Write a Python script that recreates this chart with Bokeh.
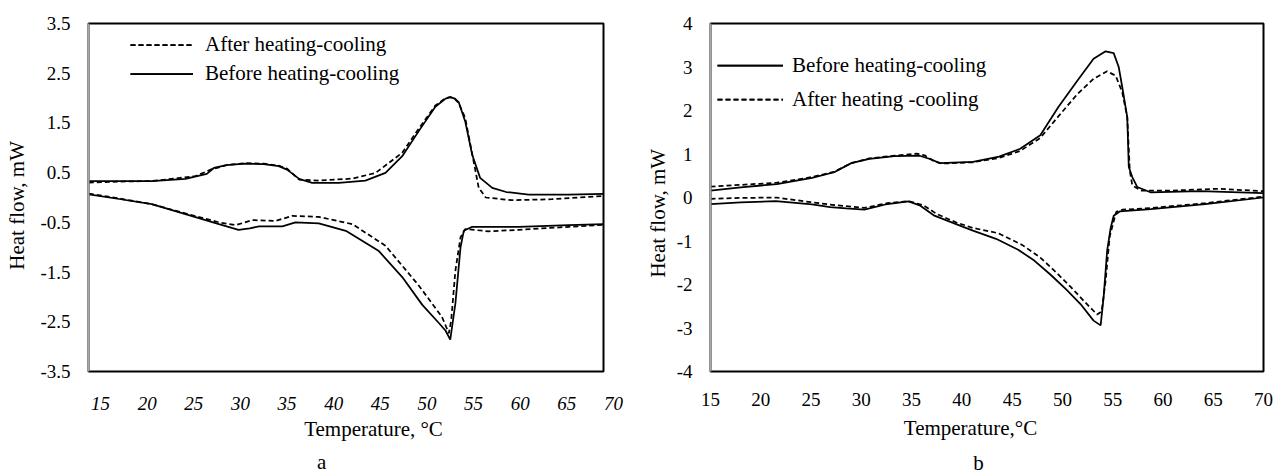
from bokeh.plotting import figure
from bokeh.layouts import row
from bokeh.models import FixedTicker, Label, Legend, LegendItem, Range1d, PrintfTickFormatter
from bokeh.embed import file_html
from bokeh.resources import INLINE

FONT = "Liberation Serif"

# ---------------- ticks ----------------
x_ticks = [15, 20, 25, 30, 35, 40, 45, 50, 55, 60, 65, 70]
a_y_ticks = [-3.5, -2.5, -1.5, -0.5, 0.5, 1.5, 2.5, 3.5]
b_y_ticks = [-4, -3, -2, -1, 0, 1, 2, 3, 4]

# ---------------- data : panel a ----------------
a_before_heat_T = [13.75, 17, 20.5, 24.1, 26.4, 27.15, 28.5, 30.5, 32.5, 34.1, 35.0, 36.3, 37.7, 40.55,
                   43.4, 45.55, 47.35, 49.1, 50.9, 52.0, 52.5, 53.0, 53.4, 54.1, 54.85, 55.7, 57.0, 58.5,
                   60.9, 65.2, 68.93]
a_before_heat_v = [0.33, 0.33, 0.33, 0.375, 0.475, 0.594, 0.65, 0.68, 0.67, 0.63, 0.56, 0.375, 0.295, 0.295,
                   0.34, 0.495, 0.83, 1.33, 1.825, 1.99, 2.02, 1.99, 1.92, 1.53, 0.86, 0.395, 0.195, 0.11,
                   0.06, 0.06, 0.075]

a_after_heat_T = [13.75, 17, 20.5, 25.2, 26.8, 28.5, 30.5, 32.5, 34.1, 35.0, 36.3, 38.4, 42.0, 44.5, 47.35,
                  49.1, 50.9, 52.0, 52.5, 53.0, 53.4, 54.1, 55.0, 55.55, 56.3, 59.1, 63.4, 68.93]
a_after_heat_v = [0.30, 0.32, 0.33, 0.43, 0.56, 0.65, 0.69, 0.68, 0.64, 0.58, 0.36, 0.34, 0.38, 0.495, 0.9,
                  1.38, 1.85, 2.0, 2.02, 1.98, 1.9, 1.6, 0.73, 0.195, 0.0, -0.055, -0.035, 0.03]

a_before_cool_T = [13.75, 17, 20.5, 24.1, 27.7, 29.8, 31.0, 32.0, 34.5, 35.9, 38.4, 41.3, 44.8, 47.35, 49.5,
                   51.3, 52.0, 52.5, 53.05, 53.6, 53.95, 54.85, 59.85, 65.2, 68.93]
a_before_cool_v = [0.063, -0.03, -0.135, -0.335, -0.535, -0.65, -0.62, -0.58, -0.58, -0.50, -0.52, -0.67,
                   -1.07, -1.60, -2.16, -2.53, -2.68, -2.86, -2.13, -1.0, -0.67, -0.59, -0.59, -0.555, -0.535]

a_after_cool_T = [13.75, 17, 20.5, 24.1, 27.7, 29.5, 31.3, 33.8, 35.55, 38.4, 42.0, 45.55, 49.1, 51.6,
                  52.35, 52.6, 53.05, 53.6, 54.1, 56.6, 59.85, 65.2, 68.93]
a_after_cool_v = [0.08, -0.02, -0.135, -0.32, -0.50, -0.555, -0.455, -0.47, -0.37, -0.39, -0.535, -0.97,
                  -1.765, -2.40, -2.73, -2.47, -1.47, -0.80, -0.635, -0.68, -0.65, -0.59, -0.55]

# ---------------- data : panel b ----------------
b_before_heat_T = [15.0, 18.0, 21.6, 25.1, 27.3, 29.0, 30.8, 33.3, 35.8, 36.9, 37.8, 41.1, 43.7, 45.8, 47.8,
                   49.6, 51.5, 53.1, 54.3, 55.1, 55.6, 55.95, 56.45, 56.6, 56.95, 57.45, 58.75, 63.7, 70.0]
b_before_heat_v = [0.16, 0.23, 0.31, 0.45, 0.58, 0.79, 0.89, 0.95, 0.96, 0.88, 0.79, 0.82, 0.94, 1.12, 1.43,
                   2.08, 2.69, 3.19, 3.36, 3.32, 3.0, 2.54, 1.85, 0.70, 0.47, 0.24, 0.12, 0.145, 0.10]

b_after_heat_T = [15.0, 18.0, 21.6, 25.1, 27.3, 29.0, 30.8, 33.3, 35.5, 36.3, 37.2, 38.0, 41.1, 43.7, 45.8,
                  47.8, 49.8, 51.5, 53.1, 54.45, 55.3, 55.95, 56.45, 56.7, 56.95, 57.8, 61.0, 65.4, 70.0]
b_after_heat_v = [0.25, 0.29, 0.34, 0.47, 0.59, 0.79, 0.90, 0.96, 1.01, 0.97, 0.84, 0.78, 0.81, 0.91, 1.07,
                  1.37, 1.92, 2.38, 2.73, 2.90, 2.80, 2.42, 1.85, 0.62, 0.28, 0.16, 0.16, 0.20, 0.145]

b_before_cool_T = [15.0, 18.0, 21.5, 25.1, 26.9, 28.5, 30.3, 32.6, 34.7, 35.8, 37.2, 39.3, 41.1, 43.4, 45.6,
                   47.2, 48.8, 50.4, 51.8, 53.1, 53.8, 54.1, 54.45, 54.8, 55.1, 55.7, 58.8, 64.2, 70.0]
b_before_cool_v = [-0.15, -0.11, -0.085, -0.16, -0.22, -0.25, -0.28, -0.15, -0.09, -0.18, -0.41, -0.6, -0.76,
                   -0.95, -1.2, -1.45, -1.77, -2.12, -2.45, -2.83, -2.94, -2.29, -1.22, -0.70, -0.42, -0.32,
                   -0.27, -0.15, 0.0]

b_after_cool_T = [15.0, 18.0, 21.5, 25.1, 27.5, 30.3, 32.6, 34.7, 36.2, 37.5, 39.4, 41.1, 43.6, 46.0, 47.8,
                  49.5, 50.8, 52.1, 53.45, 53.9, 54.3, 54.7, 55.35, 56.0, 58.9, 64.2, 70.0]
b_after_cool_v = [-0.03, -0.01, 0.0, -0.11, -0.18, -0.24, -0.13, -0.085, -0.18, -0.38, -0.57, -0.70, -0.82,
                  -1.09, -1.38, -1.75, -2.05, -2.37, -2.69, -2.62, -1.91, -0.9, -0.33, -0.28, -0.24, -0.13,
                  0.02]

LW = 1.75
DASH = "5 3"
NB = "\u00a0"


def fmt(t):
    return "%g" % t


def base_fig(width, xr, yr, left, right, top, bottom, yticks):
    p = figure(width=width, height=475, x_range=xr, y_range=yr, output_backend="svg",
               toolbar_location=None, min_border_left=left, min_border_right=right,
               min_border_top=top, min_border_bottom=bottom)
    p.grid.visible = False
    p.outline_line_color = "black"
    p.outline_line_width = 2
    p.outline_line_alpha = 1.0
    p.background_fill_color = "white"
    p.border_fill_color = "white"
    ya = p.yaxis[0]
    yt = [float(t) for t in yticks]
    ya.ticker = FixedTicker(ticks=yt)
    ya.formatter = PrintfTickFormatter(format="%g")
    ya.major_label_overrides = {t: fmt(t) for t in yt}
    ya.axis_line_color = "#a6a6a6"
    ya.axis_line_width = 2
    ya.major_tick_line_color = None
    ya.minor_tick_line_color = None
    ya.major_tick_out = 0
    ya.major_tick_in = 0
    ya.major_label_standoff = 18
    ya.major_label_text_font = FONT
    ya.major_label_text_font_size = "19px"
    ya.major_label_text_color = "black"
    ya.axis_label_text_font = FONT
    ya.axis_label_text_font_size = "21px"
    ya.axis_label_text_font_style = "normal"
    ya.axis_label_text_color = "black"
    xa = p.xaxis[0]
    xa.axis_line_color = None
    xa.major_tick_line_color = None
    xa.minor_tick_line_color = None
    xa.major_tick_out = 0
    xa.major_tick_in = 0
    xa.major_label_standoff = 21
    xa.major_label_text_font = FONT
    xa.major_label_text_font_size = "19px"
    xa.major_label_text_color = "black"
    return p


def below_text(p, x, y, s, baseline="middle"):
    p.add_layout(Label(x=x, y=y, text=s, text_font=FONT, text_font_size="21px", text_color="black",
                       text_align="center", text_baseline=baseline), "below")


def legend(p, items, loc, gw, standoff, h):
    lg = Legend(items=items, location=loc, glyph_width=gw, glyph_height=h, label_height=h, spacing=0,
                padding=0, margin=0, label_standoff=standoff, label_text_font=FONT,
                label_text_font_size="21px", label_text_color="black", border_line_color=None,
                background_fill_alpha=0)
    p.add_layout(lg)


# ---------------- panel a ----------------
# scale: 9.327 px per degree, plot box 88..603 px
a_ppx = 9.327
pa = base_fig(635, Range1d(13.713, 68.928), Range1d(-3.5, 3.5), 88, 32, 21, 103, a_y_ticks)
# in the source the temperature labels sit ~12 px right of their tick; emulate by padding
pad = 5
shift = pad * 19 * 0.25 / 2 / a_ppx
a_tick_pos = [t - shift for t in x_ticks]
pa.xaxis[0].ticker = FixedTicker(ticks=a_tick_pos)
pa.xaxis[0].major_label_overrides = {pos: NB * pad + fmt(t) for pos, t in zip(a_tick_pos, x_ticks)}
pa.xaxis[0].major_label_text_font_style = "italic"
pa.yaxis[0].axis_label = "Heat flow, mW" + NB * 3
pa.yaxis[0].axis_label_standoff = 8
ra1 = pa.line(a_after_heat_T, a_after_heat_v, line_color="black", line_width=LW, line_dash=DASH)
ra2 = pa.line(a_after_cool_T, a_after_cool_v, line_color="black", line_width=LW, line_dash=DASH)
ra3 = pa.line(a_before_heat_T, a_before_heat_v, line_color="black", line_width=LW)
ra4 = pa.line(a_before_cool_T, a_before_cool_v, line_color="black", line_width=LW)
legend(pa, [LegendItem(label="After heating-cooling", renderers=[ra1, ra2]),
            LegendItem(label="Before heating-cooling", renderers=[ra3, ra4])],
       (42, 283), 63, 12, 29)
below_text(pa, 44.27, -4.657, "Temperature, °C")
below_text(pa, 38.7, -5.33, "a", baseline="alphabetic")

# ---------------- panel b ----------------
pb = base_fig(648, Range1d(15, 70), Range1d(-4, 4), 75, 20, 23, 104, b_y_ticks)
pb.xaxis[0].ticker = FixedTicker(ticks=x_ticks)
pb.xaxis[0].major_label_overrides = {t: fmt(t) for t in x_ticks}
pb.yaxis[0].axis_label = "Heat flow, mW" + NB * 6
pb.yaxis[0].axis_label_standoff = 4
rb1 = pb.line(b_before_heat_T, b_before_heat_v, line_color="black", line_width=LW)
rb2 = pb.line(b_before_cool_T, b_before_cool_v, line_color="black", line_width=LW)
rb3 = pb.line(b_after_heat_T, b_after_heat_v, line_color="black", line_width=LW, line_dash=DASH)
rb4 = pb.line(b_after_cool_T, b_after_cool_v, line_color="black", line_width=LW, line_dash=DASH)
legend(pb, [LegendItem(label="Before heating-cooling", renderers=[rb1, rb2]),
            LegendItem(label="After heating -cooling", renderers=[rb3, rb4])],
       (7, 255), 66, 9, 34)
below_text(pb, 40.86, -5.31, "Temperature,°C")
below_text(pb, 41.65, -6.10, "b", baseline="alphabetic")

layout = row(pa, pb)
open("out.html", "w").write(file_html(layout, INLINE))
